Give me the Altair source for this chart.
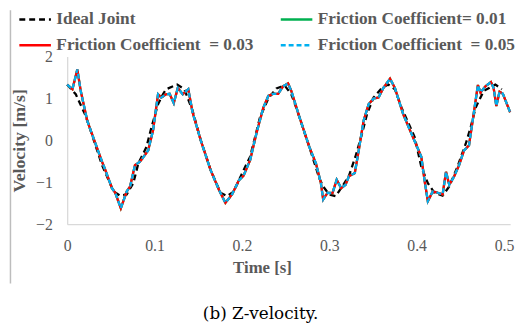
import altair as alt
import pandas as pd

# ---- data ----
series_names = ["Ideal Joint", "Friction Coefficient= 0.01",
                "Friction Coefficient\u00a0 = 0.03", "Friction Coefficient\u00a0 = 0.05"]
series_colors = ["#000000", "#00B050", "#FF0000", "#00B0F0"]
series_dash = [[6, 4], [1, 0], [1, 0], [5, 3]]
# legend fills column by column: this order gives rows (Ideal, 0.01) and (0.03, 0.05)
legend_order = [0, 2, 1, 3]

ideal_t = [0.0, 0.0098, 0.0211, 0.0399, 0.0531, 0.0607, 0.0681, 0.0757, 0.0814, 0.0907,
           0.0964, 0.104, 0.1096, 0.1133, 0.1258, 0.1341, 0.1435, 0.1529, 0.1642, 0.1755,
           0.1831, 0.1906, 0.2019, 0.2094, 0.2207, 0.2302, 0.2395, 0.2489, 0.2565, 0.2621,
           0.2772, 0.2885, 0.293, 0.2998, 0.3073, 0.3149, 0.3224, 0.3299, 0.3375, 0.3432,
           0.3506, 0.3601, 0.3676, 0.3751, 0.3827, 0.3977, 0.4053, 0.4128, 0.4203, 0.4297,
           0.4373, 0.4467, 0.4562, 0.4618, 0.4675, 0.4768, 0.4901, 0.4975]
ideal_v = [1.33, 1.10, 0.59, -0.59, -1.22, -1.32, -1.29, -1.02, -0.55, -0.16,
           0.31, 0.86, 1.10, 1.22, 1.33, 1.22, 0.71, 0.0, -0.71, -1.25,
           -1.33, -1.22, -0.71, -0.39, 0.55, 1.00, 1.24, 1.31, 1.10, 0.78,
           -0.16, -0.90, -1.10, -1.29, -1.33, -1.10, -0.85, -0.39, 0.16, 0.63,
           1.02, 1.25, 1.33, 1.22, 0.78, 0.08, -0.63, -1.02, -1.25, -1.32,
           -1.10, -0.63, -0.08, 0.31, 0.78, 1.18, 1.33, 1.22]

friction_t = [0.0, 0.006, 0.0116, 0.0155, 0.0229, 0.0324, 0.0399, 0.0437, 0.0512, 0.055,
              0.0614, 0.0681, 0.072, 0.0776, 0.0833, 0.0927, 0.0983, 0.104, 0.1077, 0.1133,
              0.1172, 0.122, 0.1266, 0.1322, 0.1386, 0.1435, 0.1529, 0.1642, 0.1737, 0.1811,
              0.1887, 0.1963, 0.2019, 0.2094, 0.217, 0.2245, 0.2302, 0.2358, 0.2415, 0.2471,
              0.2528, 0.2565, 0.2659, 0.2772, 0.2847, 0.2904, 0.293, 0.298, 0.3036, 0.3085,
              0.3136, 0.3186, 0.3224, 0.3292, 0.3337, 0.3393, 0.345, 0.3506, 0.3563, 0.3619,
              0.3695, 0.3751, 0.3845, 0.394, 0.3994, 0.4053, 0.409, 0.4128, 0.4184, 0.4241,
              0.4297, 0.4336, 0.4373, 0.4429, 0.4486, 0.4542, 0.4599, 0.4647, 0.4701, 0.4731,
              0.4788, 0.4851, 0.4881, 0.4912, 0.4949, 0.4987, 0.507]
friction_v = [1.33, 1.22, 1.69, 1.18, 0.47, -0.08, -0.51, -0.71, -1.14, -1.25,
              -1.62, -1.22, -1.10, -0.59, -0.51, -0.24, 0.24, 1.10, 1.02, 1.10,
              1.11, 0.89, 1.25, 1.10, 1.22, 0.67, 0.00, -0.71, -1.18, -1.49,
              -1.29, -0.96, -0.84, -0.47, 0.20, 0.78, 1.06, 1.11, 1.11, 1.29,
              1.36, 1.18, 0.55, -0.16, -0.55, -1.02, -1.41, -1.25, -1.26, -0.94,
              -1.14, -1.06, -0.86, -0.78, -0.24, 0.47, 0.86, 1.00, 1.02, 1.25,
              1.47, 1.25, 0.63, 0.16, -0.10, -0.39, -0.95, -1.45, -1.22, -1.25,
              -1.29, -0.75, -1.06, -0.86, -0.59, -0.24, -0.12, 0.55, 1.32, 1.14,
              1.29, 1.39, 1.25, 0.82, 1.16, 1.11, 0.67]
# the three friction cases overlap almost exactly in the reference
friction_001_v = list(friction_v)
friction_003_v = list(friction_v)
friction_005_v = list(friction_v)

x_ticks = [0, 0.1, 0.2, 0.3, 0.4, 0.5]
y_ticks = [-2, -1, 0, 1, 2]
caption = "(b) Z-velocity."

frames = [pd.DataFrame({"t": ideal_t, "v": ideal_v, "series": series_names[0]})]
for name, vals in zip(series_names[1:], [friction_001_v, friction_003_v, friction_005_v]):
    frames.append(pd.DataFrame({"t": friction_t, "v": vals, "series": name}))
df = pd.concat(frames, ignore_index=True)

W, H = 449, 170
serif = "Liberation Serif"
cap_font = "DejaVu Serif"
gray = "#595959"

dom = [series_names[i] for i in legend_order]
color_scale = alt.Scale(domain=dom, range=[series_colors[i] for i in legend_order])
dash_scale = alt.Scale(domain=dom, range=[series_dash[i] for i in legend_order])

legend = alt.Legend(title=None, orient="none", legendX=-50, legendY=-55, columns=2,
                    columnPadding=22, rowPadding=-15, symbolType="stroke", symbolSize=1024,
                    symbolStrokeWidth=2.5, labelFont=serif, labelFontSize=17.5,
                    labelFontWeight="bold", labelColor=gray, labelLimit=400,
                    labelOffset=4, padding=0)

x_enc = alt.X("t:Q", scale=alt.Scale(domain=[0, 0.507], nice=False, zero=False),
              axis=alt.Axis(values=x_ticks, format="~g", title="Time [s]", grid=False,
                            ticks=False, tickSize=0, domainColor="#d9d9d9", domainWidth=1.3,
                            labelFont=serif, labelFontSize=16, labelColor=gray,
                            labelPadding=14, labelFlush=False,
                            titleFont=serif, titleFontSize=17, titleFontWeight="bold",
                            titleColor=gray, titleX=197.5, titleY=44, titleBaseline="middle",
                            titleAlign="center"))
y_enc = alt.Y("v:Q", scale=alt.Scale(domain=[-2, 2], nice=False),
              axis=alt.Axis(values=y_ticks, format="d", title="Velocity [m/s]", grid=False,
                            ticks=False, tickSize=0, domainColor="#d9d9d9", domainWidth=1.3,
                            labelFont=serif, labelFontSize=16, labelColor=gray,
                            labelPadding=15,
                            titleFont=serif, titleFontSize=18, titleFontWeight="bold",
                            titleColor=gray, titleX=-48, titleY=85, titleBaseline="middle",
                            titleAlign="center"))

layers = []
for name in series_names:
    layers.append(
        alt.Chart(df).transform_filter(alt.datum.series == name)
        .mark_line(strokeWidth=2.3, clip=False)
        .encode(x=x_enc, y=y_enc,
                color=alt.Color("series:N", scale=color_scale, legend=legend, sort=dom),
                strokeDash=alt.StrokeDash("series:N", scale=dash_scale, legend=legend, sort=dom))
    )

frame_line = alt.Chart(pd.DataFrame({"k": ["frame"]})).mark_rule(
    color="#bdbdbd", strokeWidth=1.5, clip=False
).encode(x=alt.value(-57.5), y=alt.value(-47), y2=alt.value(230), detail="k:N")

cap = alt.Chart(pd.DataFrame({"text": [caption]})).mark_text(
    font=cap_font, fontSize=17, color="#000000", align="center", baseline="middle"
).encode(x=alt.value(196), y=alt.value(261), text="text:N")

chart = alt.layer(*layers, frame_line, cap).properties(
    width=W, height=H,
    autosize=alt.AutoSizeParams(type="none"),
    padding={"left": 60, "top": 47, "right": 10, "bottom": 100},
    background="white",
).configure_view(stroke=None)

chart.save("out.html", embed_options={"renderer": "svg", "actions": False})
